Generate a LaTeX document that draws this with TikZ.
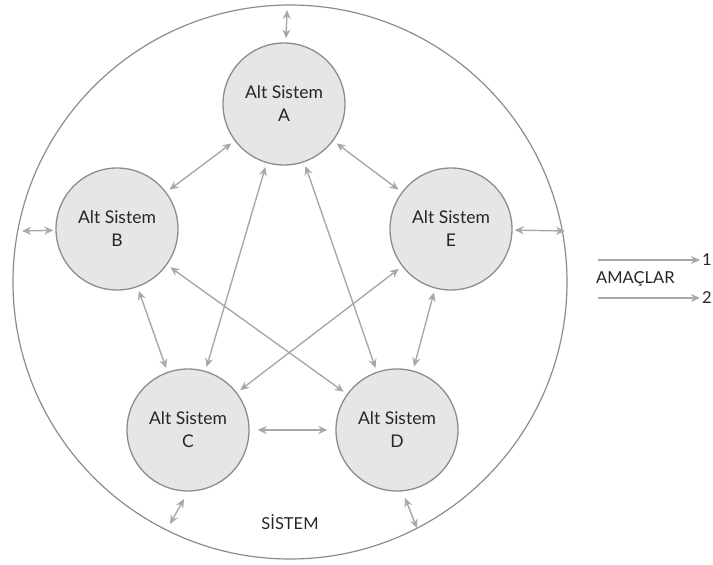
\documentclass[tikz,border=0pt]{standalone}
\usepackage{fontspec}
\setmainfont{Lato}
\usetikzlibrary{arrows.meta}
\definecolor{subfill}{HTML}{E6E6E6}
\definecolor{subdraw}{HTML}{8C8C8C}
\definecolor{linkc}{HTML}{A8A8A8}
\definecolor{txt}{HTML}{262626}
\begin{document}
\begin{tikzpicture}[x=1pt,y=-1pt,
  sub/.style={circle,draw=subdraw,fill=subfill,line width=1.3pt,minimum size=122pt,inner sep=0pt,align=center,text=txt,font=\fontsize{17.5}{23}\selectfont},
  link/.style={draw=linkc,line width=1.4pt,{Stealth[length=9pt,width=8pt]}-{Stealth[length=9pt,width=8pt]},shorten <=4pt,shorten >=4pt},
  oneway/.style={draw=linkc,line width=1.4pt,-{Stealth[length=9pt,width=8pt]}},
  lbl/.style={text=txt,font=\fontsize{16.5}{19}\selectfont,inner sep=0pt}]
\useasboundingbox (0,0) rectangle (713,565);
\node[circle,draw=subdraw,line width=1.2pt,minimum size=554pt,inner sep=0pt] (S) at (290,282) {};
\node[sub] (A) at (284,104) {Alt Sistem\\A};
\node[sub] (B) at (117,229) {Alt Sistem\\B};
\node[sub] (E) at (451,229) {Alt Sistem\\E};
\node[sub] (C) at (188,430) {Alt Sistem\\C};
\node[sub] (D) at (397,430) {Alt Sistem\\D};
\node[lbl] (sis) at (290,522) {SİSTEM};
% inner links
\draw[link] (A) -- (B);
\draw[link] (A) -- (E);
\draw[link] (A) -- (C);
\draw[link] (A) -- (D);
\draw[link] (B) -- (C);
\draw[link] (B) -- (D);
\draw[link] (E) -- (C);
\draw[link] (E) -- (D);
\draw[link,shorten <=8pt,shorten >=8pt] (C) -- (D);
% outer links
\coordinate (ot) at (287,9);
\coordinate (ol) at (21,231);
\coordinate (or) at (566,231);
\coordinate (cb) at (184,499);
\coordinate (obl) at (170,524);
\coordinate (db) at (405,498);
\coordinate (obr) at (417,528);
\draw[link,shorten <=1pt,shorten >=4pt] (ot) -- (A);
\draw[link,shorten <=1pt,shorten >=2pt] (ol) -- (B);
\draw[link,shorten <=1pt,shorten >=2pt] (or) -- (E);
\draw[link,shorten <=0pt,shorten >=0pt] (cb) -- (obl);
\draw[link,shorten <=0pt,shorten >=0pt] (db) -- (obr);
% goals
\node[lbl,anchor=west] (g1) at (702,260) {1};
\node[lbl,anchor=west] (g2) at (702,298) {2};
\node[lbl,anchor=west] (am) at (596,279) {AMAÇLAR};
\coordinate (s1) at (598,260);
\coordinate (s2) at (598,298);
\draw[oneway,shorten >=2pt] (s1) -- (g1.west);
\draw[oneway,shorten >=2pt] (s2) -- (g2.west);
\end{tikzpicture}
\end{document}
